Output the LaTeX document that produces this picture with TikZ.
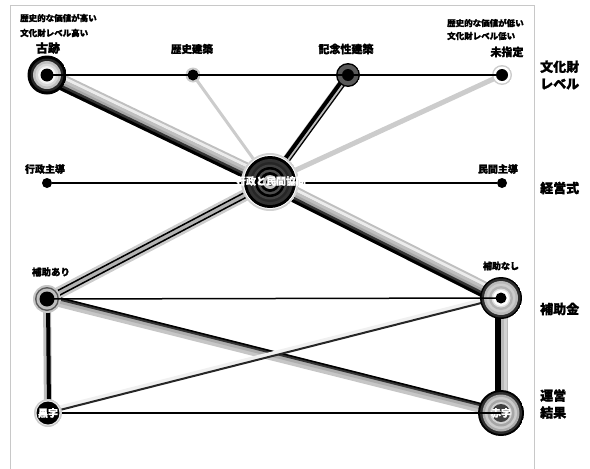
\documentclass[tikz,border=0pt]{standalone}
\usepackage{fontspec}
\setmainfont{Noto Sans CJK JP}[BoldFeatures={FakeBold=1.6}]
\usetikzlibrary{calc, backgrounds, positioning}

\definecolor{framegray}{HTML}{c8c8c8}

% layered strands between two nodes: offset/width/colour
\newcommand\tube[3]{%
  \foreach \o/\w/\col in {#3}{%
    \draw[line width=\w pt, \col] ($(#1.center)!\o pt!90:(#2.center)$) -- ($(#2.center)!\o pt!-90:(#1.center)$);
  }}

\begin{document}
\begin{tikzpicture}[x=1pt, y=-1pt,
  frame/.style={draw=framegray, line width=0.8pt},
  rings/.style 2 args={circle, inner sep=0pt, outer sep=0pt, minimum size=#1,
    path picture={\foreach \r/\col in {#2}{\fill[\col] (path picture bounding box.center) circle (\r pt);}}},
  dotnode/.style={circle, fill=black, inner sep=0pt, minimum size=10pt},
  thinline/.style={line width=1.5pt, black},
  lbl/.style={font=\bfseries\fontsize{#1}{#1}\selectfont, inner sep=0pt},
  lbl/.default=10,
  notelbl/.style={font=\bfseries\fontsize{8.5}{8.5}\selectfont, inner sep=0pt, anchor=west},
  sidelbl/.style={font=\bfseries\fontsize{13}{17}\selectfont, inner sep=0pt, anchor=west, align=left},
]
\useasboundingbox (0,0) rectangle (590,469);

%% 文化財レベル
\node[rings={39pt}{19.5/black, 16.5/gray!30!black, 14/gray!50, 11.5/gray!30, 9/gray!10, 7.5/white, 6.5/black}] (kozeki) at (47,75) {};
\node[rings={15pt}{7.5/gray!40, 5.5/black}] (rekishi) at (193,75) {};
\node[rings={24pt}{12/black, 10.5/black!65, 6/black}] (kinen) at (348,75) {};
\node[rings={20pt}{10/gray!40, 8.5/white, 6/black}] (mishitei) at (502,75) {};

%% 経営式
\node[dotnode] (gyosei) at (47,183) {};
\node[rings={58pt}{29/gray!35, 27/white, 26/black, 23/gray!40!black, 20/black!85, 17.5/gray!50!black, 15/black, 12.5/gray!60!black, 10/black, 7/gray!50, 4/black}] (kyodo) at (270,182) {};
\node[dotnode] (minkan) at (502,183) {};

%% 補助金
\node[rings={28pt}{14/gray!45, 12/gray!70!black, 10.5/gray!50, 7.5/black}] (hojoari) at (47,299) {};
\node[rings={42pt}{21/black, 19.5/gray!35!black, 17/gray!55, 14.5/gray!40, 12/gray!60, 9.5/gray!25, 8/white, 5.5/black}] (hojonashi) at (501,298) {};

%% 運営結果
\node[rings={28pt}{14/gray!40, 12.5/gray!15, 11.5/black}, text=white, lbl=10] (kuroji) at (48,413) {黒字};
\node[rings={46pt}{23/black, 21/gray!35!black, 18.5/gray!65, 16/gray!40, 13.5/gray!70, 11/gray!35, 9/gray!50!black}, text=white, lbl=10] (akaji) at (501,413) {赤字};

%% connectors
\begin{scope}[on background layer]
  \draw[frame] (10,469) -- (10,5) -- (534,5) -- (534,469);
  \tube{kozeki}{kyodo}{0/16/gray!50, 4.5/3/gray!15, 1.5/3/gray!50, -1.5/3/gray!70, -4/3/gray!40!black, -6.5/3/black}
  \tube{kyodo}{hojonashi}{0/16/gray!50, 4.5/3/gray!15, 1.5/3/gray!50, -1.5/3/gray!70, -4/3/gray!40!black, -6.5/3/black}
  \tube{rekishi}{kyodo}{0/3/gray!40}
  \tube{kinen}{kyodo}{0/8/gray!50, -1.5/4/black, 3.2/1.2/black}
  \tube{mishitei}{kyodo}{0/5/gray!40}
  \draw[thinline] (gyosei) -- (minkan);
  \tube{kyodo}{hojoari}{0/12/gray!40, 0/6/gray!60, 2.5/1.5/black, -2.5/1.5/black}
  \tube{hojoari}{akaji}{0/10/gray!45, 1.5/6/gray!65, 3/3/gray!40!black, 4.2/1.5/black}
  \tube{hojoari}{kuroji}{0/8/gray!50, 1/4/black}
  \tube{hojonashi}{kuroji}{-2/5/gray!12, 0/2/gray!30!black}
  \tube{hojonashi}{akaji}{0/13/gray!55, -3/6.5/black, 4/3/gray!35}
\end{scope}

\draw[thinline] (kozeki.center) -- (mishitei.center);
\draw[thinline] (hojoari.center) -- (hojonashi.center);
\draw[thinline] (kuroji) -- (akaji.center);

%% labels
\node[notelbl] (kozeki-n1) at (20,18) {歴史的な価値が高い};
\node[notelbl] (kozeki-n2) at (20,33) {文化財レベル高い};
\node[lbl=12] (kozeki-t) at (48,48) {古跡};
\node[lbl=10.5] (rekishi-t) at (192,49) {歴史建築};
\node[lbl=11] (kinen-t) at (346,49) {記念性建築};
\node[notelbl] (mishitei-n1) at (447,23) {歴史的な価値が低い};
\node[notelbl] (mishitei-n2) at (447,36) {文化財レベル低い};
\node[lbl=11] (mishitei-t) at (507,52) {未指定};
\node[lbl=10] (gyosei-t) at (45,169) {行政主導};
\node[lbl=10] (minkan-t) at (498,169) {民間主導};
\node[lbl=10, text=white] (kyodo-t) at (271,181) {行政と民間協同};
\node[lbl=9.5] (hojoari-t) at (51,272) {補助あり};
\node[lbl=9] (hojonashi-t) at (501,266) {補助なし};

\node[sidelbl] (bunkazai-t) at (540,75) {文化財\\レベル};
\node[sidelbl] (keiei-t) at (540,188) {経営式};
\node[sidelbl] (hojokin-t) at (540,309) {補助金};
\node[sidelbl] (unei-t) at (540,404) {運営\\結果};
\end{tikzpicture}
\end{document}
